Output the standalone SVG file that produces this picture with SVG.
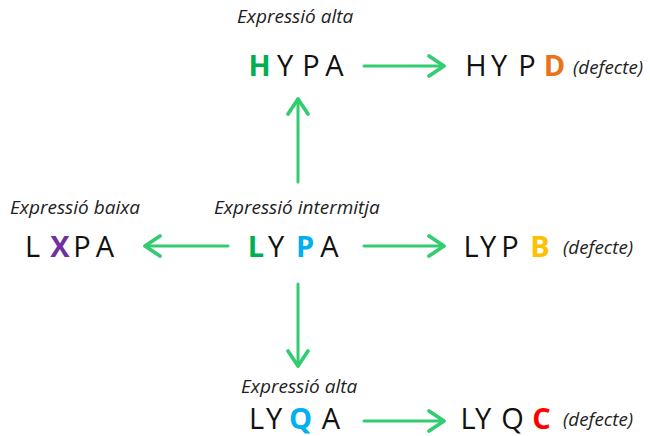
<svg xmlns="http://www.w3.org/2000/svg" width="650" height="436" viewBox="0 0 650 436">
  <style>
    .lbl { font-family: "Open Sans", "Liberation Sans", sans-serif; font-style: italic; font-size: 19px; fill: #222; }
    .def { font-family: "Open Sans", "Liberation Sans", sans-serif; font-style: italic; font-size: 18.8px; fill: #222; }
    .g { font-family: "Open Sans", "Liberation Sans", sans-serif; font-size: 29px; fill: #111; text-anchor: middle; }
    .b { font-weight: bold; }
    .conn { stroke: #33CC70; stroke-width: 3; fill: none; stroke-linecap: round; }
  </style>
  <defs>
    <marker id="head" markerUnits="userSpaceOnUse" orient="auto" markerWidth="30" markerHeight="30" refX="0" refY="0" viewBox="-16 -12 20 24" overflow="visible">
      <path d="M-12,-8 L0,0 L-12,8" fill="none" stroke="#33CC70" stroke-width="3" stroke-linecap="round" stroke-linejoin="round"/>
    </marker>
  </defs>

  <!-- connectors -->
  <g id="connectors">
    <line class="conn" x1="364" y1="66" x2="444" y2="66" marker-end="url(#head)"/>
    <line class="conn" x1="298" y1="182" x2="298" y2="99" marker-end="url(#head)"/>
    <line class="conn" x1="228" y1="246" x2="145" y2="246" marker-end="url(#head)"/>
    <line class="conn" x1="364" y1="246" x2="444" y2="246" marker-end="url(#head)"/>
    <line class="conn" x1="298" y1="284" x2="298" y2="366" marker-end="url(#head)"/>
    <line class="conn" x1="364" y1="421" x2="444" y2="421" marker-end="url(#head)"/>
  </g>

  <!-- HYPA: high expression -->
  <g id="hypa">
    <text class="lbl" x="237" y="23">Expressió alta</text>
    <text class="g b" x="259.5" y="76" style="fill:#00B050">H</text>
    <text class="g" x="285" y="76">Y</text>
    <text class="g" x="311" y="76">P</text>
    <text class="g" x="334.5" y="76">A</text>
  </g>

  <!-- HYPD -->
  <g id="hypd">
    <text class="g" x="476" y="76">H</text>
    <text class="g" x="499" y="76">Y</text>
    <text class="g" x="527" y="76">P</text>
    <text class="g b" x="554.5" y="76" style="fill:#E8731A">D</text>
    <text class="def" x="573" y="74">(defecte)</text>
  </g>

  <!-- LXPA: low expression -->
  <g id="lxpa">
    <text class="lbl" x="10" y="214">Expressió baixa</text>
    <text class="g" x="32.5" y="257">L</text>
    <text class="g b" x="60" y="257" style="fill:#7030A0">X</text>
    <text class="g" x="82" y="257">P</text>
    <text class="g" x="105" y="257">A</text>
  </g>

  <!-- LYPA: intermediate expression -->
  <g id="lypa">
    <text class="lbl" x="214" y="214">Expressió intermitja</text>
    <text class="g b" x="256" y="257" style="fill:#00B050">L</text>
    <text class="g" x="276" y="257">Y</text>
    <text class="g b" x="305" y="257" style="fill:#00B0F0">P</text>
    <text class="g" x="329.5" y="257">A</text>
  </g>

  <!-- LYPB -->
  <g id="lypb">
    <text class="g" x="471" y="257">L</text>
    <text class="g" x="488" y="257">Y</text>
    <text class="g" x="510" y="257">P</text>
    <text class="g b" x="540" y="257" style="fill:#FFC000">B</text>
    <text class="def" x="563" y="254">(defecte)</text>
  </g>

  <!-- LYQA: high expression -->
  <g id="lyqa">
    <text class="lbl" x="241" y="393">Expressió alta</text>
    <text class="g" x="256.5" y="429">L</text>
    <text class="g" x="274" y="429">Y</text>
    <text class="g b" x="300.5" y="429" style="fill:#00B0F0">Q</text>
    <text class="g" x="331" y="429">A</text>
  </g>

  <!-- LYQC -->
  <g id="lyqc">
    <text class="g" x="468" y="429">L</text>
    <text class="g" x="483" y="429">Y</text>
    <text class="g" x="512.5" y="429">Q</text>
    <text class="g b" x="541.5" y="429" style="fill:#FF0000">C</text>
    <text class="def" x="563" y="426">(defecte)</text>
  </g>
</svg>
